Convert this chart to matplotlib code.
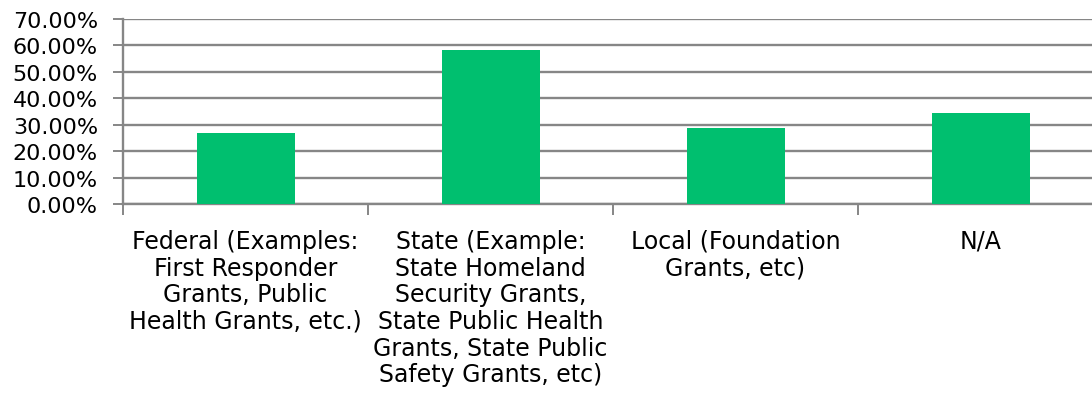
import matplotlib

matplotlib.use("Agg")
import matplotlib.pyplot as plt
from matplotlib import font_manager
from matplotlib.ticker import FixedLocator, PercentFormatter

categories = [
    "Federal (Examples:\nFirst Responder\nGrants, Public\nHealth Grants, etc.)",
    "State (Example:\nState Homeland\nSecurity Grants,\nState Public Health\nGrants, State Public\nSafety Grants, etc)",
    "Local (Foundation\nGrants, etc)",
    "N/A",
]
shares = [0.270, 0.582, 0.289, 0.344]
y_ticks = [0.0, 0.1, 0.2, 0.3, 0.4, 0.5, 0.6, 0.7]

names = {f.name for f in font_manager.fontManager.ttflist}
family = "DejaVu Sans Condensed" if "DejaVu Sans Condensed" in names else "DejaVu Sans"
plt.rcParams["font.family"] = [family, "DejaVu Sans"]

grid_color = "#868686"
bar_color = "#00BF6F"

fig = plt.figure(figsize=(10.92, 4.10), dpi=100)
ax = fig.add_axes([123 / 1092, 205 / 410, 980 / 1092, 185 / 410])

x = range(len(categories))
ax.bar(x, shares, width=0.4, color=bar_color, zorder=3)

ax.set_xlim(-0.5, len(categories) - 0.5)
ax.set_ylim(0, 0.7)
ax.yaxis.set_major_locator(FixedLocator(y_ticks))
ax.yaxis.set_major_formatter(PercentFormatter(1.0, decimals=2))
ax.grid(axis="y", color=grid_color, linewidth=1.7, zorder=0)

ax.set_xticks(list(x), categories, fontsize=17, linespacing=1.14, va="top")
ax.set_xticks([i - 0.5 for i in range(len(categories) + 1)], minor=True)
ax.tick_params(axis="x", which="major", length=0, pad=18)
ax.tick_params(axis="x", which="minor", length=8, width=1.4, color=grid_color)
ax.tick_params(axis="y", length=7, width=1.4, color=grid_color, labelsize=16, pad=11)

for side in ("top", "right"):
    ax.spines[side].set_visible(False)
for side in ("left", "bottom"):
    ax.spines[side].set_color(grid_color)
    ax.spines[side].set_linewidth(1.7)

fig.savefig("out.png", dpi=100)
